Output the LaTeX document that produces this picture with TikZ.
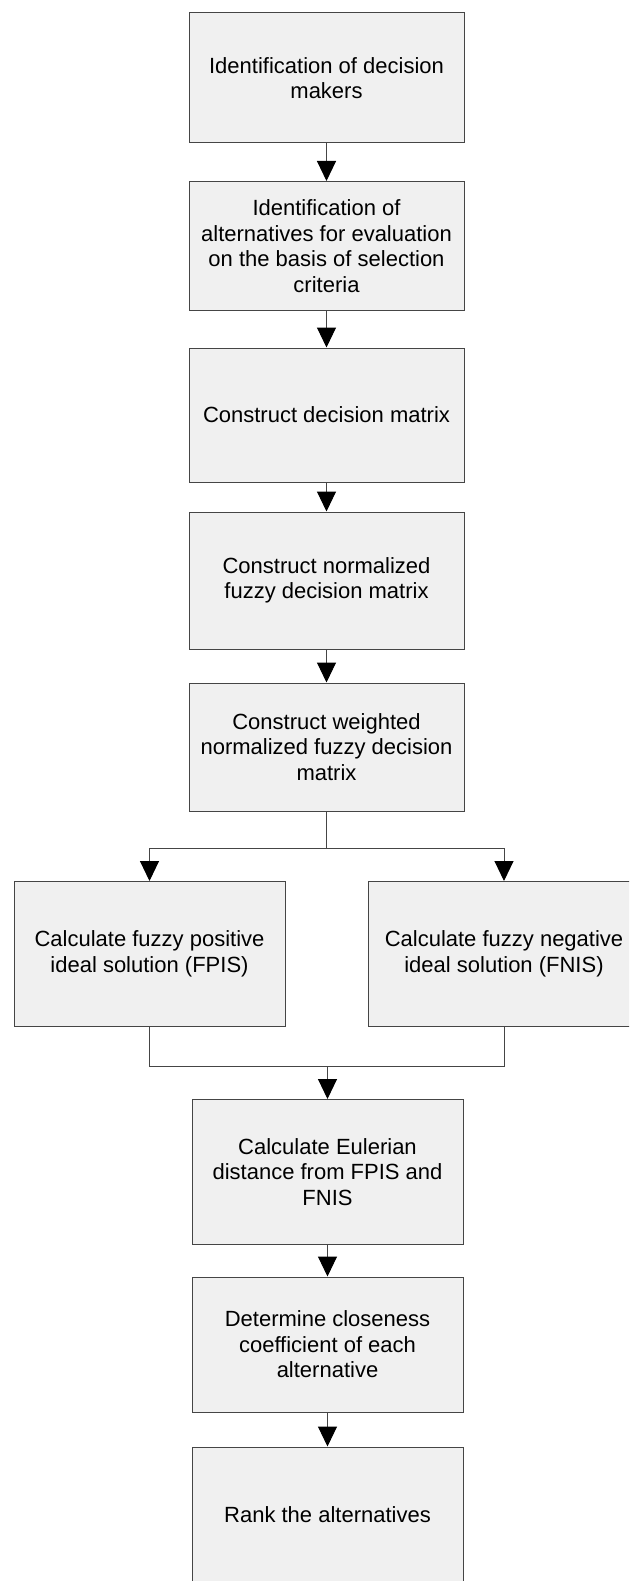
\documentclass[tikz,border=0pt]{standalone}
\usepackage{fontspec}
\setmainfont{Liberation Sans}
\usetikzlibrary{arrows.meta}
\definecolor{boxfill}{HTML}{F0F0F0}
\definecolor{edge}{HTML}{454545}
\tikzset{
  stepbox/.style={draw=edge, fill=boxfill, line width=1pt, inner sep=0pt,
    align=center, font=\fontsize{22}{25.5}\selectfont},
  upper/.style={stepbox, minimum width=275pt},
  lower/.style={stepbox, minimum width=271pt},
  side/.style={stepbox, minimum width=271pt, minimum height=145pt},
  conn/.style={draw=edge, line width=1pt},
  flow/.style={conn, -{Triangle[width=19pt,length=20pt,color=black,fill=black]}}
}
\begin{document}
\begin{tikzpicture}[x=1pt,y=-1pt]
\useasboundingbox (0,0) rectangle (629,1581);
\clip (0,0) rectangle (629,1581);
\fill[white] (0,0) rectangle (629,1581);

% main column, upper part
\node[upper, minimum height=130pt] (dm) at (326.5,78) {Identification of decision\\makers};
\node[upper, minimum height=129pt] (alt) at (326.5,246) {Identification of\\alternatives for evaluation\\on the basis of selection\\criteria};
\node[upper, minimum height=134pt] (mat) at (326.5,415) {Construct decision matrix};
\node[upper, minimum height=137pt] (norm) at (326.5,580.5) {Construct normalized\\fuzzy decision matrix};
\node[upper, minimum height=128pt] (wgt) at (326.5,747) {Construct weighted\\normalized fuzzy decision\\matrix};

% the two ideal solutions
\node[side] (fpis) at (149.5,954) {Calculate fuzzy positive\\ideal solution (FPIS)};
\node[side] (fnis) at (504,954) {Calculate fuzzy negative\\ideal solution (FNIS)};

% main column, lower part
\node[lower, minimum height=145pt] (dist) at (327.5,1172) {Calculate Eulerian\\distance from FPIS and\\FNIS};
\node[lower, minimum height=135pt] (cc) at (327.5,1344.5) {Determine closeness\\coefficient of each\\alternative};
\node[lower, minimum height=136pt] (rank) at (327.5,1515) {Rank the alternatives};

% straight steps
\draw[flow] (dm.south) -- (alt.north);
\draw[flow] (alt.south) -- (mat.north);
\draw[flow] (mat.south) -- (norm.north);
\draw[flow] (norm.south) -- (wgt.north);
\draw[flow] (dist.south) -- (cc.north);
\draw[flow] (cc.south) -- (rank.north);

% split into FPIS / FNIS
\coordinate (split) at (326.5,848);
\draw[conn] (wgt.south) -- (split);
\draw[flow] (split) -| (fpis.north);
\draw[flow] (split) -| (fnis.north);

% merge into distance step
\coordinate (merge) at (327.5,1066);
\draw[conn] (fpis.south) |- (merge) -| (fnis.south);
\draw[flow] (merge) -- (dist.north);
\end{tikzpicture}
\end{document}
